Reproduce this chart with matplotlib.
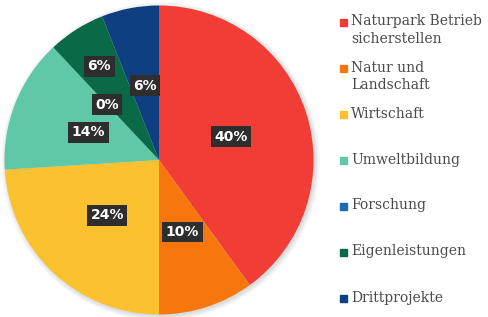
import numpy as np
import matplotlib.pyplot as plt
from matplotlib.patches import Circle, Rectangle

labels = ['Naturpark Betrieb\nsicherstellen', 'Natur und\nLandschaft', 'Wirtschaft',
          'Umweltbildung', 'Forschung', 'Eigenleistungen', 'Drittprojekte']
values = [40, 10, 24, 14, 0, 6, 6]
colors = ['#F23D37', '#F8760E', '#FBC12E', '#5FC8A9', '#1E6DB4', '#0A6A47', '#0E3F80']

fig = plt.figure(figsize=(4.89, 3.17), dpi=100)
ax = fig.add_axes([4.5/489, 2.5/317, 309/489, 309/317])

wedges, _ = ax.pie(values, colors=colors, startangle=90, counterclock=False,
                   radius=1.0, wedgeprops=dict(linewidth=0))
ax.set_xlim(-1.0, 1.0)
ax.set_ylim(-1.0, 1.0)
ax.set_aspect('equal')
ax.axis('off')

# soft shadow around the pie
for r in np.linspace(1.03, 1.0, 6):
    ax.add_patch(Circle((0.01, -0.01), r, color='#000000', alpha=0.025, lw=0,
                        zorder=0, clip_on=False))

for i, (w, v) in enumerate(zip(wedges, values)):
    ang = np.deg2rad((w.theta1 + w.theta2) / 2)
    r = 0.72 if i == 5 else 0.49
    ax.text(r*np.cos(ang), r*np.sin(ang), f'{v}%', ha='center', va='center',
            color='white', fontsize=10, fontweight='bold', zorder=5,
            bbox=dict(boxstyle='square,pad=0.25', fc='#2E2E2E', ec='none'))

# legend
y0 = 1 - 22/317
step = 46/317
for i, (lab, c) in enumerate(zip(labels, colors)):
    y = y0 - i*step
    fig.patches.append(Rectangle((340/489, y - 3.5/317), 7/489, 7/317, color=c,
                                 transform=fig.transFigure, figure=fig))
    fig.text(351/489, y + 7.5/317, lab, ha='left', va='top', fontsize=10,
             family='DejaVu Serif', color='#4A4A4A', linespacing=1.3)

fig.savefig('out.png', dpi=100)
